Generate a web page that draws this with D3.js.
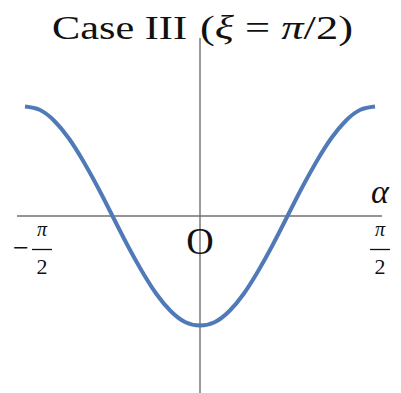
<!DOCTYPE html>
<html>
<head>
<meta charset="utf-8">
<script src="https://cdn.jsdelivr.net/npm/d3@7"></script>
<style>
  html, body { margin: 0; padding: 0; background: #fff; }
  svg { display: block; }
  text { font-family: "Liberation Serif", "DejaVu Serif", serif; fill: #111; }
</style>
</head>
<body>
<svg id="chart" width="401" height="393"></svg>
<script>
// Angle samples (degrees) and the plotted value of the curve at each one
const alphaDeg = [-90, -82.5, -75, -67.5, -60, -52.5, -45, -37.5, -30, -22.5, -15, -7.5, 0,
                  7.5, 15, 22.5, 30, 37.5, 45, 52.5, 60, 67.5, 75, 82.5, 90];
const values = [1, 0.97, 0.87, 0.71, 0.5, 0.26, 0, -0.26, -0.5, -0.71, -0.87, -0.97, -1,
                -0.97, -0.87, -0.71, -0.5, -0.26, 0, 0.26, 0.5, 0.71, 0.87, 0.97, 1];
// Tick positions on the α axis and their fraction labels
const tickDeg = [-90, 90];
const tickSign = ["\u2212", ""];
const tickNum = ["\u03C0", "\u03C0"];
const tickDen = ["2", "2"];

const svg = d3.select("#chart");

const x = d3.scaleLinear().domain([-90, 90]).range([25, 375]);
const y = d3.scaleLinear().domain([-1, 1]).range([325.5, 106.5]);

const axisColor = "#707070";

// horizontal α axis
svg.append("line")
  .attr("x1", 17).attr("x2", 382)
  .attr("y1", y(0)).attr("y2", y(0))
  .attr("stroke", axisColor).attr("stroke-width", 1.4);

// vertical axis
svg.append("line")
  .attr("x1", x(0)).attr("x2", x(0))
  .attr("y1", 38).attr("y2", 393)
  .attr("stroke", axisColor).attr("stroke-width", 1.4);

// curve
const line = d3.line()
  .x((d, i) => x(alphaDeg[i]))
  .y(d => y(d))
  .curve(d3.curveNatural);

svg.append("path")
  .datum(values)
  .attr("d", line)
  .attr("fill", "none")
  .attr("stroke", "#5079b8")
  .attr("stroke-width", 4)
  .attr("stroke-linecap", "butt");

// title: plain words, then the math part with italic symbols
svg.append("text")
  .attr("x", 52).attr("y", 39)
  .attr("font-size", 34)
  .attr("textLength", 135)
  .attr("lengthAdjust", "spacingAndGlyphs")
  .text("Case III");

const mathTitle = svg.append("text")
  .attr("x", 200).attr("y", 39)
  .attr("font-size", 34)
  .attr("textLength", 153)
  .attr("lengthAdjust", "spacingAndGlyphs");
mathTitle.append("tspan").text("(");
mathTitle.append("tspan").attr("font-style", "italic").text("\u03BE");
mathTitle.append("tspan").text(" = ");
mathTitle.append("tspan").attr("font-style", "italic").text("\u03C0");
mathTitle.append("tspan").text("/2)");

// α label
svg.append("text")
  .attr("x", 380).attr("y", 203)
  .attr("text-anchor", "middle")
  .attr("font-size", 34)
  .attr("font-style", "italic")
  .text("\u03B1");

// origin label
svg.append("text")
  .attr("x", x(0)).attr("y", 254)
  .attr("text-anchor", "middle")
  .attr("font-size", 38)
  .text("O");

// fraction tick labels
const fracX = tickDeg.map(d => d < 0 ? 42 : 380);
const ticks = svg.selectAll("g.tick").data(tickDeg).join("g")
  .attr("class", "tick")
  .attr("transform", (d, i) => `translate(${fracX[i]},0)`);

ticks.append("text")
  .attr("x", 0).attr("y", 236)
  .attr("text-anchor", "middle")
  .attr("font-size", 20)
  .attr("font-style", "italic")
  .text((d, i) => tickNum[i]);

ticks.append("line")
  .attr("x1", -10).attr("x2", 10)
  .attr("y1", 249.5).attr("y2", 249.5)
  .attr("stroke", "#111").attr("stroke-width", 1.3);

ticks.append("text")
  .attr("x", 0).attr("y", 274)
  .attr("text-anchor", "middle")
  .attr("font-size", 22)
  .text((d, i) => tickDen[i]);

ticks.append("text")
  .attr("x", -21).attr("y", 257)
  .attr("text-anchor", "middle")
  .attr("font-size", 28)
  .text((d, i) => tickSign[i]);
</script>
</body>
</html>
